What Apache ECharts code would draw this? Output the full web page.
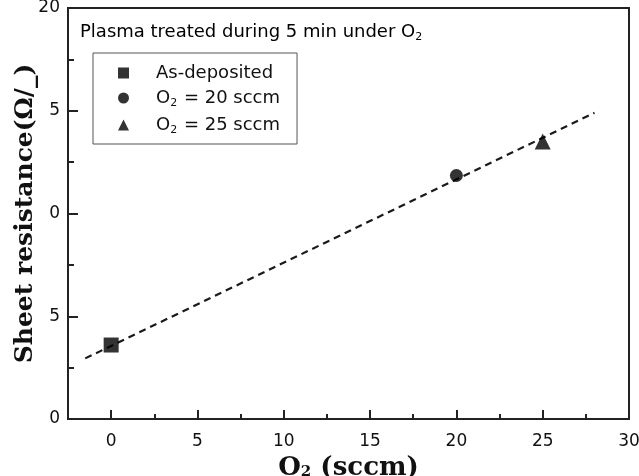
<!DOCTYPE html>
<html>
<head>
<meta charset="utf-8">
<script src="https://cdn.jsdelivr.net/npm/echarts@6/dist/echarts.min.js"></script>
<style>
  html, body { margin: 0; padding: 0; background: #fff; }
  #chart { width: 639px; height: 476px; }
</style>
</head>
<body>
<div id="chart"></div>
<script>
// measured points
const asDeposited = [[0, 3.6]];
const o2At20 = [[20, 11.85]];
const o2At25 = [[25, 13.5]];
// dashed linear fit, its two ends
const fitLine = [[-1.5, 2.95], [28, 14.9]];

// tick values and the labels as they show in the picture
const xTicks = [0, 5, 10, 15, 20, 25, 30];
const xMinorTicks = [2.5, 7.5, 12.5, 17.5, 22.5, 27.5];
const yTickLabels = { 0: '0', 5: '5', 10: '0', 15: '5', 20: '20' };

const seriesNames = ['As-deposited', 'O2 = 20 sccm', 'O2 = 25 sccm'];

const sansFont = '"DejaVu Sans", "Liberation Sans", sans-serif';
const serifFont = '"DejaVu Serif", "Liberation Serif", serif';
const ink = '#111';

function subRich(size) {
  return {
    n: { fontFamily: sansFont, fontSize: size, color: ink },
    s: { fontFamily: sansFont, fontSize: Math.round(size * 0.62), color: ink, padding: [Math.round(size * 0.6), 1, 0, 0] }
  };
}

function withSub(txt) {
  // O2 -> O with a subscript 2
  return txt.split('O2').map(p => p ? '{n|' + p + '}' : '').join('{n|O}{s|2}');
}

let chart = echarts.init(document.querySelector('#chart'));

const option = {
  animation: false,
  backgroundColor: '#fff',
  grid: {
    left: 68, right: 10, top: 8, bottom: 57,
    outerBoundsMode: 'none',
    containLabel: false,
    show: true, borderColor: '#222', borderWidth: 2, backgroundColor: 'transparent'
  },
  graphic: [{
    type: 'text',
    left: 80, top: 23,
    style: {
      text: '{n|Plasma treated during 5 min under O}{s|2}',
      rich: subRich(18)
    }
  }],
  legend: {
    orient: 'vertical',
    left: 93, top: 53,
    padding: [11, 17, 8, 25],
    itemGap: 7,
    itemWidth: 11, itemHeight: 11,
    borderColor: '#555', borderWidth: 1,
    selectedMode: false,
    data: [
      { name: seriesNames[0], icon: 'rect' },
      { name: seriesNames[1], icon: 'circle' },
      { name: seriesNames[2], icon: 'triangle' }
    ],
    formatter: name => withSub(name),
    textStyle: {
      padding: [0, 0, 0, 22],
      rich: subRich(18)
    }
  },
  xAxis: [{
    type: 'value',
    min: -2.5, max: 30,
    splitLine: { show: false },
    axisLine: { show: false, onZero: false },
    axisTick: { inside: true, length: 9, customValues: xTicks, lineStyle: { color: '#222', width: 2 } },
    axisLabel: { customValues: xTicks, color: ink, fontFamily: sansFont, fontSize: 17, margin: 14 },
    name: '{n|O}{s|2}{n| (sccm)}',
    nameLocation: 'middle',
    nameMoveOverlap: false,
    nameGap: 36,
    nameTextStyle: {
      rich: {
        n: { fontFamily: serifFont, fontWeight: 'bold', fontSize: 26, color: ink },
        s: { fontFamily: serifFont, fontWeight: 'bold', fontSize: 15, color: ink, padding: [9, 0, 0, 0] }
      }
    }
  }, {
    type: 'value',
    position: 'bottom',
    min: -2.5, max: 30,
    splitLine: { show: false },
    axisLine: { show: false, onZero: false },
    axisTick: { inside: true, length: 5, customValues: xMinorTicks, lineStyle: { color: '#222', width: 2 } },
    axisLabel: { show: false }
  }],
  yAxis: {
    type: 'value',
    min: 0, max: 20, interval: 5,
    splitLine: { show: false },
    axisLine: { show: false, onZero: false },
    axisTick: { inside: true, length: 10, lineStyle: { color: '#222', width: 2 } },
    minorTick: { show: true, splitNumber: 2, length: 6, lineStyle: { color: '#222', width: 2 } },
    axisLabel: {
      color: ink, fontFamily: sansFont, fontSize: 17, margin: 8,
      formatter: v => yTickLabels[v]
    },
    name: 'Sheet resistance(\u03a9/_)',
    nameLocation: 'middle',
    nameMoveOverlap: false,
    nameRotate: 90,
    nameGap: 30,
    nameTextStyle: { fontFamily: serifFont, fontWeight: 'bold', fontSize: 25, color: ink }
  },
  series: [{
    type: 'line',
    data: fitLine,
    symbol: 'none',
    silent: true,
    z: 1,
    lineStyle: { color: '#1a1a1a', width: 2.2, type: [7, 5] }
  }, {
    name: seriesNames[0],
    type: 'scatter',
    data: asDeposited,
    symbol: 'rect',
    symbolSize: 15,
    itemStyle: { color: '#000' },
    z: 3
  }, {
    name: seriesNames[1],
    type: 'scatter',
    data: o2At20,
    symbol: 'circle',
    symbolSize: 13,
    itemStyle: { color: '#000' },
    z: 3
  }, {
    name: seriesNames[2],
    type: 'scatter',
    data: o2At25,
    symbol: 'triangle',
    symbolSize: 16,
    itemStyle: { color: '#000' },
    z: 3
  }]
};

chart.setOption(option);
</script>
</body>
</html>
